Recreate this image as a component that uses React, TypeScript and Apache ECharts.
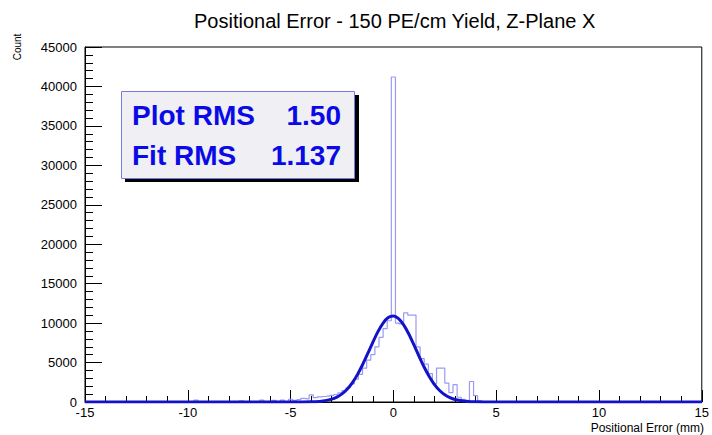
import React, { useEffect, useRef } from 'react';
import * as echarts from 'echarts';

const titleText = 'Positional Error - 150 PE/cm Yield, Z-Plane X';
const xAxisName = 'Positional Error (mm)';
const yAxisName = 'Count';

// histogram: bin centres start at histStart, width binWidth
const histStart = -10;
const binWidth = 0.2;
const histCounts = [
  0, 0, 250, 0, 0, 0, 0, 0, 0, 0,            // -10.0 .. -8.2
  0, 0, 0, 150, 0, 0, 0, 0, 250, 0,          // -8.0 .. -6.2
  0, 200, 0, 250, 0, 350, 200, 300, 450, 400, // -6.0 .. -4.2
  900, 550, 650, 700, 750, 850, 950, 1150, 1450, 1800, // -4.0 .. -2.2
  2300, 2900, 3500, 4300, 5300, 6000, 7000, 8200, 9300, 10300, // -2.0 .. -0.2
  41200, 10000, 9900, 11300, 11000, 11000, 7000, 5500, 4800, 3600, // 0.0 .. 1.8
  2300, 4300, 4300, 2400, 1200, 2200, 600, 350, 200, 2600, // 2.0 .. 3.8
  800, 150, 0, 0,                            // 4.0 .. 4.6
];

// fitted curve, points
const fitX = [-15, -5, -4.5, -4, -3.5, -3, -2.75, -2.5, -2.25, -2, -1.75, -1.5, -1.25, -1, -0.75, -0.5, -0.25, 0,
  0.25, 0.5, 0.75, 1, 1.25, 1.5, 1.75, 2, 2.25, 2.5, 2.75, 3, 3.5, 4, 4.5, 5, 15];
const fitY = [0, 0, 5, 24, 103, 360, 620, 1030, 1620, 2430, 3470, 4720, 6130, 7570, 8920, 10010, 10700, 10900,
  10580, 9780, 8620, 7230, 5780, 4400, 3200, 2210, 1460, 916, 550, 313, 88, 20, 4, 0, 0];

const statLabels = ['Plot RMS', 'Fit RMS'];
const statValues = ['1.50', '1.137'];

const FONT = 'Liberation Sans, Arial, Helvetica, sans-serif';

export default function App() {
  const ref = useRef<HTMLDivElement>(null);
  useEffect(() => {
    const chart = echarts.init(ref.current!, null, { renderer: 'svg' });
    const hist: number[][] = [[-15, 0]];
    histCounts.forEach((c, i) => hist.push([+(histStart + i * binWidth).toFixed(1), c]));
    hist.push([15, 0]);
    const fit = fitX.map((x, i) => [x, fitY[i]]);

    chart.setOption({
      animation: false,
      backgroundColor: '#fff',
      title: {
        text: titleText,
        left: 189,
        top: 6,
        textStyle: { fontFamily: FONT, fontSize: 20, fontWeight: 'normal', color: '#000' },
      },
      grid: { left: 85, right: 7, top: 47, bottom: 33, show: true, borderColor: '#000', borderWidth: 1, backgroundColor: 'transparent' },
      xAxis: {
        type: 'value', min: -15, max: 15, interval: 5,
        axisLine: { show: true, onZero: false, lineStyle: { color: '#000', width: 1 } },
        axisTick: { show: true, inside: true, length: 12, lineStyle: { color: '#000' } },
        minorTick: { show: true, splitNumber: 5, length: 6, lineStyle: { color: '#000' } },
        splitLine: { show: false },
        axisLabel: { formatter: (v: number) => String(v), fontFamily: FONT, fontSize: 13, color: '#000', margin: 4 },
      },
      yAxis: {
        type: 'value', min: 0, max: 45000, interval: 5000,
        axisLine: { show: true, onZero: false, lineStyle: { color: '#000', width: 1 } },
        axisTick: { show: true, inside: true, length: 17, lineStyle: { color: '#000' } },
        minorTick: { show: true, splitNumber: 5, length: 8, lineStyle: { color: '#000' } },
        splitLine: { show: false },
        axisLabel: { formatter: (v: number) => String(v), fontFamily: FONT, fontSize: 13, color: '#000', margin: 8, padding: [0, 0, 4, 0] },
      },
      series: [
        {
          type: 'line', data: hist, step: 'middle', showSymbol: false, symbol: 'none',
          lineStyle: { color: '#9a9af5', width: 1.2 }, z: 2,
        },
        {
          type: 'line', data: fit, smooth: 0.3, showSymbol: false, symbol: 'none',
          lineStyle: { color: '#1212c8', width: 3 }, z: 3,
        },
      ],
      graphic: [
        {
          type: 'text', x: 17, y: 47, rotation: Math.PI / 2,
          style: { text: yAxisName, font: `10px ${FONT}`, fill: '#000', align: 'center', verticalAlign: 'middle' },
        },
        {
          type: 'text', x: 704, y: 428,
          style: { text: xAxisName, font: `12px ${FONT}`, fill: '#000', align: 'right', verticalAlign: 'middle' },
        },
        { type: 'rect', shape: { x: 125, y: 95, width: 234, height: 87 }, style: { fill: '#000' }, z: 10 },
        { type: 'rect', shape: { x: 121.5, y: 91.5, width: 233, height: 87 }, style: { fill: '#efeff4', stroke: '#7a7ad8', lineWidth: 1 }, z: 11 },
        { type: 'text', x: 132, y: 115, z: 12, style: { text: statLabels[0], font: `bold 28px ${FONT}`, fill: '#0a0ae6', align: 'left', verticalAlign: 'middle' } },
        { type: 'text', x: 341, y: 115, z: 12, style: { text: statValues[0], font: `bold 28px ${FONT}`, fill: '#0a0ae6', align: 'right', verticalAlign: 'middle' } },
        { type: 'text', x: 132, y: 155, z: 12, style: { text: statLabels[1], font: `bold 28px ${FONT}`, fill: '#0a0ae6', align: 'left', verticalAlign: 'middle' } },
        { type: 'text', x: 341, y: 155, z: 12, style: { text: statValues[1], font: `bold 28px ${FONT}`, fill: '#0a0ae6', align: 'right', verticalAlign: 'middle' } },
      ],
    });
    return () => chart.dispose();
  }, []);
  return <div ref={ref} style={{ position: 'fixed', left: 0, top: 0, width: 712, height: 435 }} />;
}
